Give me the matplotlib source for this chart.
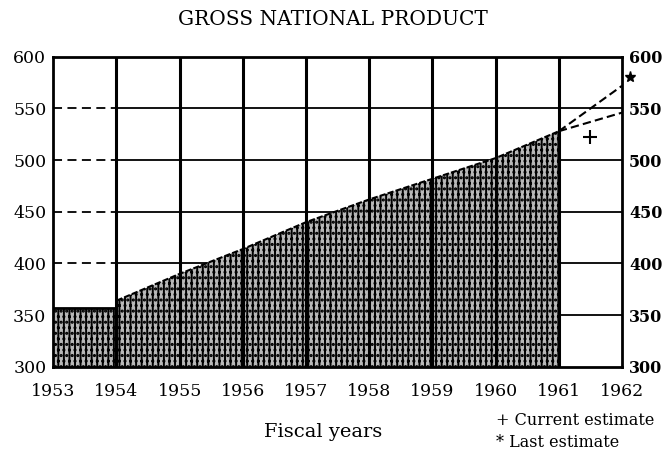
import numpy as np
import matplotlib.pyplot as plt

plt.rcParams['font.family'] = ['DejaVu Serif']
plt.rcParams['hatch.linewidth'] = 1.4

# fiscal 1953 level (flat block)
bar_years = [1953, 1954]
bar_vals = [357, 357]

# 1954 - 1961 trend
trend_years = [1954, 1955, 1956, 1957, 1958, 1959, 1960, 1961]
trend_vals = [364, 390, 414, 440, 462, 482, 502, 528]

# projections to 1962
proj_years = [1961, 1962]
proj_current = [528, 546]
proj_last = [528, 572]

current_est = (1961.5, 522)
last_est = (1962.12, 580)

years = list(range(1953, 1963))
yticks = [300, 350, 400, 450, 500, 550, 600]

fig = plt.figure(figsize=(6.66, 4.62), dpi=100)
ax = fig.add_axes([0.080, 0.206, 0.854, 0.671])

# grid: dashed in the first column, solid elsewhere
ax.hlines(yticks[1:-1], 1953, 1954, color='black', lw=1.3, ls=(0, (5, 3)), zorder=1)
ax.hlines(yticks[1:-1], 1954, 1962, color='black', lw=1.3, zorder=1)
ax.vlines(years[1:-1], 300, 600, color='black', lw=2.2, zorder=3)

ax.fill_between(bar_years, 300, bar_vals, facecolor='0.72', edgecolor='black',
                hatch='|||...', linewidth=0, zorder=2)
ax.plot(bar_years, bar_vals, color='black', lw=2, zorder=3)
ax.fill_between(trend_years, 300, trend_vals, facecolor='0.72', edgecolor='black',
                hatch='|||...', linewidth=0, zorder=2)
ax.plot(trend_years, trend_vals, color='black', lw=1.5, ls=(0, (3, 1)), zorder=3)

ax.plot(proj_years, proj_current, color='black', lw=1.5, ls=(0, (4, 2)), zorder=3)
ax.plot(proj_years, proj_last, color='black', lw=1.5, ls=(0, (4, 2)), zorder=3)
ax.plot(*current_est, marker='+', ms=10, mew=1.5, color='black', zorder=4)
ax.plot(*last_est, marker='*', ms=8, color='black', clip_on=False, zorder=4)

ax.set_xlim(1953, 1962)
ax.set_ylim(300, 600)
ax.set_xticks(years)
ax.set_xticklabels([str(y) for y in years], fontsize=12.5)
ax.set_yticks(yticks)
ax.set_yticklabels([str(v) for v in yticks], fontsize=12.5)
ax.tick_params(length=0)
ax.tick_params(axis='x', pad=12)
ax.tick_params(axis='y', pad=5, right=True, labelright=True)
for t in ax.yaxis.get_major_ticks():
    t.label2.set_fontweight('bold')
    t.label2.set_fontsize(11.5)
for s in ax.spines.values():
    s.set_linewidth(2)

fig.text(0.5, 0.958, 'GROSS NATIONAL PRODUCT', ha='center', va='center', fontsize=14.5)
fig.text(0.485, 0.065, 'Fiscal years', ha='center', va='center', fontsize=14)
fig.text(0.745, 0.090, '+ Current estimate', ha='left', va='center', fontsize=11.5)
fig.text(0.745, 0.043, '* Last estimate', ha='left', va='center', fontsize=11.5)

fig.savefig('out.png', dpi=100)
